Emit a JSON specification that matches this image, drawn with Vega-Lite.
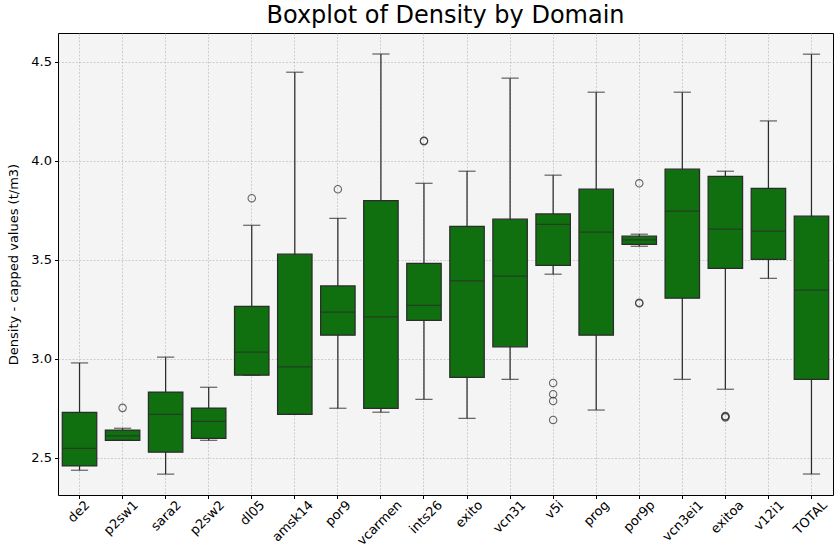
{
  "$schema": "https://vega.github.io/schema/vega-lite/v6.json",
  "width": 775,
  "height": 462,
  "autosize": {"type": "none"},
  "padding": {"left": 58, "top": 33, "right": 5, "bottom": 60},
  "background": "white",
  "title": {"text": "Boxplot of Density by Domain", "fontSize": 24, "font": "DejaVu Sans", "fontWeight": "normal", "color": "black", "anchor": "middle", "baseline": "alphabetic", "offset": 6, "dy": 20},
  "config": {
    "view": {"fill": "#f4f4f4", "stroke": "black", "strokeWidth": 1},
    "font": "DejaVu Sans",
    "axis": {"labelFont": "DejaVu Sans", "titleFont": "DejaVu Sans", "labelColor": "black", "titleColor": "black", "tickColor": "black", "domain": false, "gridColor": "#b4b4b4", "gridDash": [2, 1.5], "gridWidth": 0.6, "tickSize": 3.5, "labelFontSize": 13, "titleFontSize": 13, "titleFontWeight": "normal"}
  },
  "datasets": {
    "boxes": [
      {"domain": "de2", "lower": 2.438, "q1": 2.46, "median": 2.549, "q3": 2.73, "upper": 2.98},
      {"domain": "p2sw1", "lower": 2.589, "q1": 2.589, "median": 2.611, "q3": 2.641, "upper": 2.65},
      {"domain": "sara2", "lower": 2.419, "q1": 2.529, "median": 2.72, "q3": 2.833, "upper": 3.009},
      {"domain": "p2sw2", "lower": 2.589, "q1": 2.599, "median": 2.685, "q3": 2.752, "upper": 2.857},
      {"domain": "dl05", "lower": 2.918, "q1": 2.918, "median": 3.034, "q3": 3.266, "upper": 3.675},
      {"domain": "amsk14", "lower": 2.72, "q1": 2.72, "median": 2.96, "q3": 3.529, "upper": 4.448},
      {"domain": "por9", "lower": 2.751, "q1": 3.12, "median": 3.236, "q3": 3.369, "upper": 3.71},
      {"domain": "vcarmen", "lower": 2.731, "q1": 2.751, "median": 3.212, "q3": 3.8, "upper": 4.54},
      {"domain": "ints26", "lower": 2.796, "q1": 3.195, "median": 3.271, "q3": 3.483, "upper": 3.887},
      {"domain": "exito", "lower": 2.7, "q1": 2.907, "median": 3.394, "q3": 3.67, "upper": 3.948},
      {"domain": "vcn31", "lower": 2.897, "q1": 3.061, "median": 3.418, "q3": 3.706, "upper": 4.418},
      {"domain": "v5i", "lower": 3.428, "q1": 3.473, "median": 3.68, "q3": 3.732, "upper": 3.928},
      {"domain": "prog", "lower": 2.742, "q1": 3.12, "median": 3.641, "q3": 3.857, "upper": 4.347},
      {"domain": "por9p", "lower": 3.569, "q1": 3.579, "median": 3.601, "q3": 3.62, "upper": 3.63},
      {"domain": "vcn3ei1", "lower": 2.897, "q1": 3.307, "median": 3.746, "q3": 3.958, "upper": 4.347},
      {"domain": "exitoa", "lower": 2.847, "q1": 3.458, "median": 3.655, "q3": 3.922, "upper": 3.948},
      {"domain": "v12i1", "lower": 3.407, "q1": 3.503, "median": 3.645, "q3": 3.862, "upper": 4.202},
      {"domain": "TOTAL", "lower": 2.419, "q1": 2.897, "median": 3.348, "q3": 3.721, "upper": 4.539}
    ],
    "outliers": [
      {"domain": "p2sw1", "value": 2.753},
      {"domain": "dl05", "value": 3.812},
      {"domain": "por9", "value": 3.857},
      {"domain": "ints26", "value": 4.1},
      {"domain": "ints26", "value": 4.102},
      {"domain": "v5i", "value": 2.879},
      {"domain": "v5i", "value": 2.822},
      {"domain": "v5i", "value": 2.788},
      {"domain": "v5i", "value": 2.692},
      {"domain": "por9p", "value": 3.887},
      {"domain": "por9p", "value": 3.281},
      {"domain": "por9p", "value": 3.284},
      {"domain": "exitoa", "value": 2.705},
      {"domain": "exitoa", "value": 2.709},
      {"domain": "exitoa", "value": 2.712}
    ]
  },
  "encoding": {
    "x": {
      "field": "domain", "type": "nominal", "sort": null,
      "scale": {"domain": ["de2","p2sw1","sara2","p2sw2","dl05","amsk14","por9","vcarmen","ints26","exito","vcn31","v5i","prog","por9p","vcn3ei1","exitoa","v12i1","TOTAL"], "paddingInner": 0, "paddingOuter": 0},
      "axis": {"title": null, "labelAngle": -45, "labelAlign": "right", "labelBaseline": "middle", "labelPadding": 4, "labelOffset": {"expr": "length(datum.label) * 2.7"}, "grid": true}
    }
  },
  "layer": [
    {
      "data": {"name": "boxes"},
      "mark": {"type": "rule", "color": "#2b2b2b", "strokeWidth": 1.25},
      "encoding": {
        "y": {"field": "lower", "type": "quantitative", "scale": {"domain": [2.313, 4.646], "nice": false, "zero": false}, "axis": {"title": "Density - capped values (t/m3)", "values": [2.5, 3.0, 3.5, 4.0, 4.5], "format": ".1f", "grid": true, "titlePadding": 10, "labelPadding": 3}},
        "y2": {"field": "upper"}
      }
    },
    {
      "data": {"name": "boxes"},
      "mark": {"type": "bar", "width": {"band": 0.8}, "fill": "#107010", "stroke": "#2b2b2b", "strokeWidth": 1.25},
      "encoding": {
        "y": {"field": "q1", "type": "quantitative"},
        "y2": {"field": "q3"}
      }
    },
    {
      "data": {"name": "boxes"},
      "mark": {"type": "tick", "color": "#2b2b2b", "size": 34.4, "thickness": 1.25},
      "encoding": {"y": {"field": "median", "type": "quantitative"}}
    },
    {
      "data": {"name": "boxes"},
      "mark": {"type": "tick", "color": "#2b2b2b", "size": 17.2, "thickness": 1.25},
      "encoding": {"y": {"field": "lower", "type": "quantitative"}}
    },
    {
      "data": {"name": "boxes"},
      "mark": {"type": "tick", "color": "#2b2b2b", "size": 17.2, "thickness": 1.25},
      "encoding": {"y": {"field": "upper", "type": "quantitative"}}
    },
    {
      "data": {"name": "outliers"},
      "mark": {"type": "point", "shape": "circle", "filled": false, "color": "#2b2b2b", "size": 55, "strokeWidth": 1.1},
      "encoding": {"y": {"field": "value", "type": "quantitative"}}
    }
  ]
}
